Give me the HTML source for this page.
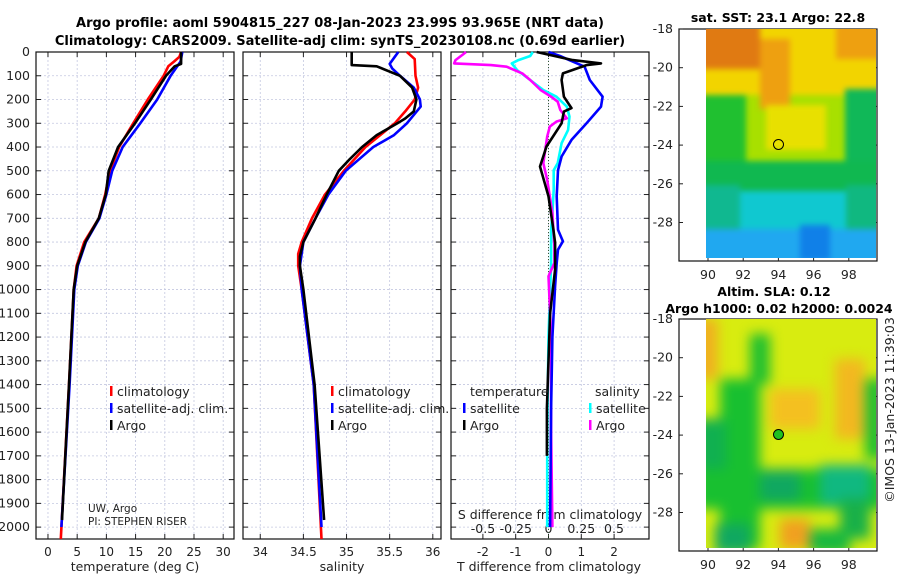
<!DOCTYPE html>
<html><head><meta charset="utf-8"><style>
body{margin:0;background:#fff;}
#wrap{position:relative;width:900px;height:580px;overflow:hidden;}
svg{display:block;font-family:"DejaVu Sans","Liberation Sans",sans-serif;}
.map{position:absolute;left:706px;width:170px;height:229px;overflow:hidden;}
.inner{position:absolute;left:0;top:0;width:170px;height:229px;filter:blur(5px);}
.inner div{position:absolute;}
.mk{position:absolute;width:11px;height:11px;border:1.2px solid #000;border-radius:50%;box-sizing:border-box;}
</style></head><body>
<div id="wrap">
<svg id="fig" width="900" height="580" viewBox="0 0 900 580">
<g font-weight="bold" font-size="13" text-anchor="middle" fill="#000">
<text x="340" y="27">Argo profile: aoml 5904815_227 08-Jan-2023 23.99S 93.965E (NRT data)</text>
<text x="340" y="45">Climatology: CARS2009. Satellite-adj clim: synTS_20230108.nc (0.69d earlier)</text>
</g>
<g id="panels"></g>
<g id="maps"></g>
</svg>
<div class="map" style="top:29px;background:#a8e000">
<div class="inner" style="filter:blur(3px)">
<div style="left:-10px;top:-10px;width:190px;height:76px;background:#f2d400"></div>
<div style="left:-10px;top:-10px;width:64px;height:50px;background:#e07a12"></div>
<div style="left:54px;top:10px;width:30px;height:70px;background:#eea010"></div>
<div style="left:130px;top:-10px;width:50px;height:40px;background:#eea010"></div>
<div style="left:-10px;top:66px;width:50px;height:70px;background:#20c030"></div>
<div style="left:139px;top:60px;width:40px;height:80px;background:#10b858"></div>
<div style="left:60px;top:76px;width:60px;height:45px;background:#e8e000"></div>
<div style="left:-10px;top:132px;width:190px;height:35px;background:#10b850"></div>
<div style="left:-10px;top:162px;width:190px;height:75px;background:#10c8d0"></div>
<div style="left:-10px;top:156px;width:44px;height:60px;background:#10b890"></div>
<div style="left:140px;top:156px;width:40px;height:50px;background:#10b880"></div>
<div style="left:-10px;top:200px;width:190px;height:35px;background:#20a8f0"></div>
<div style="left:94px;top:196px;width:30px;height:35px;background:#1080e8"></div>
</div>
<div class="mk" style="left:67px;top:110px"></div>
</div>
<div class="map" style="top:319px;background:#d8ec10">
<div class="inner" style="filter:blur(6px)">
<div style="left:-10px;top:0px;width:22px;height:60px;background:#f0b020"></div>
<div style="left:14px;top:60px;width:40px;height:170px;background:#18c030"></div>
<div style="left:-10px;top:100px;width:30px;height:80px;background:#10b050"></div>
<div style="left:-10px;top:150px;width:190px;height:40px;background:#18c030"></div>
<div style="left:54px;top:152px;width:40px;height:30px;background:#10a860"></div>
<div style="left:114px;top:146px;width:50px;height:40px;background:#10b880"></div>
<div style="left:134px;top:180px;width:30px;height:40px;background:#18b048"></div>
<div style="left:64px;top:70px;width:50px;height:40px;background:#f4c020"></div>
<div style="left:129px;top:40px;width:30px;height:80px;background:#f2b820"></div>
<div style="left:74px;top:200px;width:30px;height:30px;background:#f0a020"></div>
<div style="left:9px;top:205px;width:35px;height:30px;background:#10a860"></div>
<div style="left:104px;top:210px;width:40px;height:25px;background:#18b840"></div>
<div style="left:159px;top:60px;width:20px;height:80px;background:#20c030"></div>
<div style="left:44px;top:15px;width:20px;height:50px;background:#20c030"></div>
</div>
<div class="mk" style="left:67px;top:110px;background:#20c020"></div>
</div>
</div>
<script>
const NS="http://www.w3.org/2000/svg";
const panels=document.getElementById('panels');
function el(t,a,p){const e=document.createElementNS(NS,t);for(const k in a)e.setAttribute(k,a[k]);(p||panels).appendChild(e);return e;}
function txt(x,y,s,a,p){const e=el('text',Object.assign({x:x,y:y,'font-size':12,fill:'#222'},a||{}),p);e.textContent=s;return e;}

const depthTicks=[0,100,200,300,400,500,600,700,800,900,1000,1100,1200,1300,1400,1500,1600,1700,1800,1900,2000];
const tempTicks=[0,5,10,15,20,25,30];
const salTicks=[34,34.5,35,35.5,36];
const tdiffTicks=[-2,-1,0,1,2];
const sdiffTicks=[-0.5,-0.25,0,0.25,0.5];
const sdiffTickLabels=['-0.5','-0.25','0','0.25','0.5'];

const tDepthClim=[0,20,40,60,100,200,300,400,500,600,700,800,900,1000,1400,2050];
const tempClim=[22.8,22.5,21.6,20.6,19.8,17.1,14.6,12.2,10.6,9.8,8.7,6.2,4.9,4.4,3.6,2.2];
const tDepthSat=[0,40,100,200,300,400,500,600,700,800,900,1000,1400,2000];
const tempSat=[23.0,22.7,21.0,18.7,15.8,12.8,11.0,10.0,8.8,6.5,5.1,4.5,3.7,2.3];
const tDepthArgo=[0,50,60,100,200,300,400,500,600,700,800,900,1000,1400,1970];
const tempArgo=[22.8,22.8,21.7,20.2,17.6,14.9,12.0,10.4,9.9,8.7,6.4,5.0,4.4,3.6,2.4];

const sDepthClim=[0,30,100,150,200,250,300,350,400,500,600,700,800,850,900,1000,1400,2050];
const salClim=[35.70,35.79,35.80,35.83,35.79,35.68,35.56,35.39,35.22,34.97,34.75,34.60,34.48,34.44,34.44,34.48,34.62,34.71];
const sDepthSat=[0,20,50,70,100,150,200,230,300,350,400,500,600,700,800,900,1000,1400,2000];
const salSat=[35.60,35.56,35.50,35.53,35.62,35.78,35.85,35.86,35.70,35.55,35.31,34.99,34.79,34.64,34.50,34.46,34.48,34.62,34.71];
const sDepthArgo=[0,55,60,100,150,200,250,280,300,350,400,450,500,600,700,800,860,900,1000,1400,1970];
const salArgo=[35.06,35.06,35.35,35.62,35.76,35.81,35.78,35.68,35.59,35.35,35.18,35.04,34.91,34.77,34.64,34.50,34.46,34.46,34.50,34.63,34.74];

const dDepthTA=[0,34,48,55,90,118,188,236,251,300,398,482,510,608,748,803,888,916,1100,1300,1500,1700];
const tDiffArgo=[-0.36,0.74,1.6,1.16,0.44,0.4,0.47,0.7,0.47,0.4,-0.06,-0.26,-0.2,0.0,0.15,0.2,0.2,0.2,0.05,0.0,-0.05,-0.05];
const dDepthTS=[0,17,62,118,188,230,300,370,440,498,608,748,797,832,888,986,1200,1500,2000];
const tDiffSat=[0.0,0.35,1.1,1.26,1.65,1.6,1.16,0.7,0.4,0.29,0.25,0.29,0.44,0.29,0.25,0.2,0.12,0.08,0.05];
const dDepthSA=[0,9,34,48,55,62,90,118,160,188,209,244,279,293,314,356,468,538,678,818,888,944,1200,1600,2000];
const sDiffArgo=[-0.63,-0.65,-0.71,-0.72,-0.44,-0.32,-0.2,-0.14,-0.06,0.02,0.07,0.09,0.14,0.06,0.01,-0.01,-0.04,-0.01,0.03,0.045,0.045,0.0,0.02,0.02,0.03];
const dDepthSS=[0,17,34,48,76,118,160,188,230,272,328,384,468,498,580,678,748,888,1200,1600,2000];
const sDiffSat=[-0.12,-0.14,-0.23,-0.28,-0.24,-0.14,-0.04,0.06,0.14,0.16,0.15,0.10,0.07,0.04,0.04,0.03,0.02,0.02,0.0,-0.01,-0.01];

const Y0=52,Y1=539,DMAX=2050;
function yD(d){return Y0+(d)*(Y1-Y0)/DMAX;}
const P=[{x0:36,x1:234,min:-2.05,max:31.85},{x0:243,x1:441,min:33.80,max:36.095},{x0:451,x1:649,min:-2.972,max:3.064}];
function xS(p,v){return p.x0+(v-p.min)/(p.max-p.min)*(p.x1-p.x0);}
const sx=v=>548.5+v*131;

P.forEach((p,i)=>{
  const g=el('g',{});
  
  
  const ticks=[tempTicks,salTicks,tdiffTicks][i];
  depthTicks.forEach(d=>{
    el('line',{x1:p.x0,x2:p.x1,y1:yD(d),y2:yD(d),stroke:'#c4c8e0','stroke-width':0.8,'stroke-dasharray':'2,2'},g);
    el('line',{x1:p.x0,x2:p.x0+5,y1:yD(d),y2:yD(d),stroke:'#222'},g);
    el('line',{x1:p.x1-5,x2:p.x1,y1:yD(d),y2:yD(d),stroke:'#222'},g);
  });
  ticks.forEach(t=>{
    const x=xS(p,t);
    el('line',{x1:x,x2:x,y1:Y0,y2:Y1,stroke:'#c4c8e0','stroke-width':0.8,'stroke-dasharray':'2,2'},g);
    el('line',{x1:x,x2:x,y1:Y1,y2:Y1-5,stroke:'#222'},g);
    el('line',{x1:x,x2:x,y1:Y0,y2:Y0+5,stroke:'#222'},g);
    const tl=txt(x,556,String(t),{'text-anchor':'middle'},g);
    
    
  });
  el('rect',{x:p.x0,y:Y0,width:p.x1-p.x0,height:Y1-Y0,fill:'none',stroke:'#111','stroke-width':1.2},g);
});
depthTicks.forEach(d=>{
  const t=txt(30,yD(d)+4,String(d),{'text-anchor':'end','font-size':12.5});
  
  
});
let t;
t=txt(135,571,'temperature (deg C)',{'text-anchor':'middle','font-size':12.5});

t=txt(342,571,'salinity',{'text-anchor':'middle','font-size':12.5});

t=txt(549,571,'T difference from climatology',{'text-anchor':'middle','font-size':12.5});

t=txt(550,519,'S difference from climatology',{'text-anchor':'middle','font-size':12.5});

sdiffTicks.forEach((v,i)=>{
  const s=txt(sx(v),533,sdiffTickLabels[i],{'text-anchor':'middle','font-size':12.5});
  
  
});
el('line',{x1:548.5,x2:548.5,y1:Y0,y2:Y1,stroke:'#335533','stroke-width':1,'stroke-dasharray':'1,2'});

function line(xs,ds,fx,color,name){
  const pts=xs.map((v,i)=>fx(v).toFixed(1)+','+yD(ds[i]).toFixed(1)).join(' ');
  const e=el('polyline',{points:pts,fill:'none',stroke:color,'stroke-width':2.6,'stroke-linejoin':'round'});
  
  
}
line(tempClim,tDepthClim,v=>xS(P[0],v),'#ff0000','temp-climatology-line');
line(tempSat,tDepthSat,v=>xS(P[0],v),'#0000ff','temp-satellite-line');
line(tempArgo,tDepthArgo,v=>xS(P[0],v),'#000','temp-argo-line');
line(salClim,sDepthClim,v=>xS(P[1],v),'#ff0000','sal-climatology-line');
line(salSat,sDepthSat,v=>xS(P[1],v),'#0000ff','sal-satellite-line');
line(salArgo,sDepthArgo,v=>xS(P[1],v),'#000','sal-argo-line');
line(sDiffSat,dDepthSS,sx,'#00ffff','sdiff-satellite-line');
line(sDiffArgo,dDepthSA,sx,'#ff00ff','sdiff-argo-line');
line(tDiffSat,dDepthTS,v=>xS(P[2],v),'#0000ff','tdiff-satellite-line');
line(tDiffArgo,dDepthTA,v=>xS(P[2],v),'#000','tdiff-argo-line');

function leg(x,y,color,label,name){
  const g=el('g',{});
  
  
  el('rect',{x:x,y:y-10,width:2.5,height:10,fill:color},g);
  txt(x+7,y,label,{'font-size':12.5},g);
}
leg(110,396,'#ff0000','climatology','legend-climatology');
leg(110,413,'#0000ff','satellite-adj. clim.','legend-satellite-adj');
leg(110,430,'#000','Argo','legend-argo');
leg(331,396,'#ff0000','climatology','legend-climatology-sal');
leg(331,413,'#0000ff','satellite-adj. clim.','legend-satellite-adj-sal');
leg(331,430,'#000','Argo','legend-argo-sal');
t=txt(470,396,'temperature',{'font-size':12.5});
t=txt(595,396,'salinity',{'font-size':12.5});
leg(463,413,'#0000ff','satellite','legend-t-satellite');
leg(463,430,'#000','Argo','legend-t-argo');
leg(589,413,'#00ffff','satellite','legend-s-satellite');
leg(589,430,'#ff00ff','Argo','legend-s-argo');
t=txt(88,512,'UW, Argo',{'font-size':10.5});
t=txt(88,525,'PI: STEPHEN RISER',{'font-size':10.5});

const maps=document.getElementById('maps');
const latTicks=[-18,-20,-22,-24,-26,-28];
const lonTicks=[90,92,94,96,98];
[{y0:29,y1:261,lab:275},{y0:319,y1:551,lab:565}].forEach((m,i)=>{
  const g=el('g',{},maps);
  
  
  const ly=v=>m.y0+(-18-v)*19.35;
  const lx=v=>708+(v-90)*17.6;
  el('rect',{x:679,y:m.y0,width:198,height:m.y1-m.y0,fill:'none',stroke:'#111','stroke-width':1.2},g);
  latTicks.forEach(v=>{el('line',{x1:679,x2:683,y1:ly(v),y2:ly(v),stroke:'#222'},g);el('line',{x1:873,x2:877,y1:ly(v),y2:ly(v),stroke:'#222'},g);txt(673,ly(v)+4,String(v),{'text-anchor':'end','font-size':12.5},g);});
  lonTicks.forEach(v=>{el('line',{x1:lx(v),x2:lx(v),y1:m.y1,y2:m.y1-4,stroke:'#222'},g);el('line',{x1:lx(v),x2:lx(v),y1:m.y0,y2:m.y0+4,stroke:'#222'},g);txt(lx(v),m.lab+4,String(v),{'text-anchor':'middle','font-size':12.5},g);});
});
t=txt(778,22,'sat. SST: 23.1 Argo: 22.8',{'text-anchor':'middle','font-weight':'bold','font-size':12.5,fill:'#000'},maps);

t=txt(774,296,'Altim. SLA: 0.12',{'text-anchor':'middle','font-weight':'bold','font-size':12.5,fill:'#000'},maps);

t=txt(779,313,'Argo h1000: 0.02 h2000: 0.0024',{'text-anchor':'middle','font-weight':'bold','font-size':12.5,fill:'#000'},maps);

t=txt(0,0,'©IMOS 13-Jan-2023 11:39:03',{'text-anchor':'middle','font-size':12.5,transform:'translate(894,410) rotate(-90)'},maps);

</script>
</body></html>
